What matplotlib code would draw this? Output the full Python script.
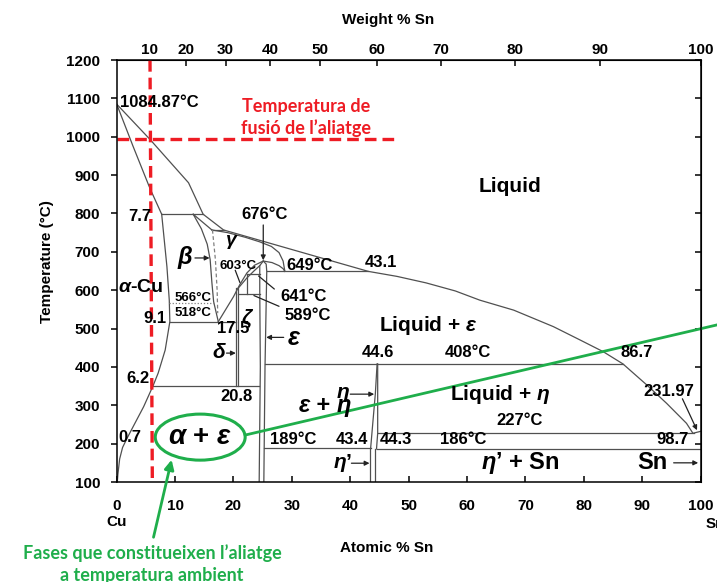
import numpy as np
import matplotlib.pyplot as plt
from matplotlib.patches import Ellipse

plt.rcParams['font.family'] = ['Liberation Sans', 'DejaVu Sans']
plt.rcParams['font.weight'] = 'bold'
plt.rcParams['mathtext.fontset'] = 'custom'
plt.rcParams['mathtext.rm'] = 'Liberation Sans:bold'
plt.rcParams['mathtext.it'] = 'Liberation Sans:italic:bold'
plt.rcParams['mathtext.bf'] = 'Liberation Sans:bold'

# ---- phase boundaries: atomic % Sn, temperature in °C ----
liquidus_at = [0, 5.7, 12.3, 14.8, 18.3, 30, 43.1, 48, 53, 58, 62.2, 68, 74.8,
               79.4, 83.3, 86.7, 90.8, 94.2, 97.6, 98.7, 100]
liquidus_T = [1084.87, 993, 880, 798, 757, 706, 649, 636, 619, 598, 574, 548, 505,
              470, 440, 408, 353, 305, 253, 227, 231.97]

solidus_at = [0, 2.8, 5.7, 7.7]
solidus_T = [1084.87, 975, 865, 798]

alpha_solvus_at = [7.7, 8.6, 9.0, 9.1, 8.3, 7.1, 6.2, 4.6, 2.8, 1.8, 1.0, 0.5, 0.2, 0.1]
alpha_solvus_T = [798, 661, 574, 518, 444, 384, 350, 296, 244, 215, 190, 160, 120, 100]

beta_left_at = [13.1, 14.5, 15.5, 16.0, 16.3, 16.6, 17.4]
beta_left_T = [798, 760, 720, 680, 620, 570, 518]

beta_liq_at = [13.1, 16.3]
beta_liq_T = [798, 757]

beta_gamma_at = [16.4, 16.9, 17.2, 17.3]
beta_gamma_T = [757, 680, 600, 540]

gamma_sol_at = [16.3, 19, 22, 24.5, 26.5, 27.8, 28.5, 28.8]
gamma_sol_T = [757, 750, 738, 726, 714, 698, 676, 649]

dome_at = [17.4, 18.6, 20.0, 21.1, 22.3, 23.6, 25.1, 26.6, 27.8, 28.5, 28.8]
dome_T = [518, 548, 583, 615, 645, 665, 676, 672, 664, 656, 649]

inner_at = [20.8, 22.3, 23.5, 24.5, 25.1]
inner_T = [605, 632, 650, 664, 676]

eps_left_at = [24.4, 24.6, 24.5, 24.5]
eps_left_T = [100, 400, 600, 664]
eps_right_at = [25.2, 25.4, 25.7, 25.6, 25.1]
eps_right_T = [100, 400, 649, 668, 676]

delta_at = [20.5, 20.8]
delta_T = [350, 605]

eta_left_at = [44.6, 44.3, 43.9, 43.5]
eta_left_T = [408, 330, 260, 189]
eta_right_at = [44.7, 44.7, 44.5]
eta_right_T = [408, 227, 186]
eta_p_at = [43.4, 44.3]
eta_p_T = [189, 186]

# invariant lines: (temperature, start, end)
isotherms = [(798, 7.7, 14.8), (757, 16.3, 18.3), (518, 9.1, 20.5), (350, 6.2, 24.4),
             (649, 25.7, 43.1), (408, 25.4, 86.7), (227, 44.7, 98.9),
             (189, 25.2, 43.5), (186, 44.5, 100), (641, 22.3, 24.5), (589, 20.8, 24.5)]
zeta_at = [22.3, 22.3]
zeta_T = [589, 641]

weight_ticks = [10, 20, 30, 40, 50, 60, 70, 80, 90, 100]
alloy_at = [5.7, 6.1]          # 10 wt% Sn alloy
alloy_liquidus = 993

M_CU, M_SN = 63.546, 118.71


def at_to_wt(a):
    a = np.asarray(a, dtype=float)
    return 100 * a * M_SN / (a * M_SN + (100 - a) * M_CU)


def wt_to_at(w):
    w = np.asarray(w, dtype=float)
    return 100 * (w / M_SN) / (w / M_SN + (100 - w) / M_CU)


fig = plt.figure(figsize=(7.17, 5.82), dpi=100)
ax = fig.add_axes([0.1628, 0.1718, 0.8142, 0.7251])
ax.set_xlim(0, 100)
ax.set_ylim(100, 1200)

ln = dict(color='#505050', lw=0.9)
for xs, ys in [(liquidus_at, liquidus_T), (solidus_at, solidus_T),
               (alpha_solvus_at, alpha_solvus_T), (beta_left_at, beta_left_T),
               (beta_liq_at, beta_liq_T), (gamma_sol_at, gamma_sol_T),
               (dome_at, dome_T), (inner_at, inner_T), (eps_left_at, eps_left_T),
               (eps_right_at, eps_right_T), (eta_left_at, eta_left_T),
               (eta_right_at, eta_right_T), (zeta_at, zeta_T)]:
    ax.plot(xs, ys, **ln)
for x in delta_at:
    ax.plot([x, x], delta_T, **ln)
for x, t in zip(eta_p_at, eta_p_T):
    ax.plot([x, x], [100, t], **ln)
for t, x0, x1 in isotherms:
    ax.plot([x0, x1], [t, t], **ln)
ax.plot(beta_gamma_at, beta_gamma_T, color='#808080', lw=0.9, ls=(0, (3, 2)))
ax.plot([9.0, 16.6], [566, 566], color='#808080', lw=0.9, ls=(0, (1, 1.5)))

# red guide lines
ax.plot(alloy_at, [1200, 100], color='#ee1c24', lw=2.4, ls=(0, (3.5, 1.8)), clip_on=False)
ax.plot([0, 48], [alloy_liquidus, alloy_liquidus], color='#ee1c24', lw=2.4,
        ls=(0, (3.5, 1.8)))

# axes styling
for s in ax.spines.values():
    s.set_linewidth(1.1)
ax.set_xticks(range(0, 101, 10))
ax.set_yticks(range(100, 1201, 100))
ax.tick_params(axis='x', direction='in', length=4, width=1.1, labelsize=11, pad=12)
ax.tick_params(axis='y', direction='out', length=4, width=1.1, labelsize=11, pad=8)
sec = ax.secondary_xaxis('top', functions=(at_to_wt, wt_to_at))
sec.set_xticks(weight_ticks)
sec.tick_params(direction='in', length=4, width=1.1, labelsize=11, pad=2)
right = ax.secondary_yaxis('right')
right.set_yticks(range(100, 1201, 100))
right.tick_params(direction='in', length=4, width=1.1, labelright=False)

fig.text(388 / 717, 1 - 20 / 582, 'Weight % Sn', ha='center', va='center', fontsize=11)
fig.text(387 / 717, 1 - 548 / 582, 'Atomic % Sn', ha='center', va='center', fontsize=11)
fig.text(47 / 717, 1 - 262 / 582, 'Temperature (°C)', rotation=90, ha='center',
         va='center', fontsize=11)
ax.text(0, -0.095, 'Cu', transform=ax.get_xaxis_transform(), ha='center', va='center',
        fontsize=11)
ax.text(100.8, -0.1, 'Sn', transform=ax.get_xaxis_transform(), ha='left', va='center',
        fontsize=11, clip_on=False)


def lab(x, y, s, size=12, **kw):
    kw.setdefault('ha', 'center')
    kw.setdefault('va', 'center')
    ax.text(x, y, s, fontsize=size, **kw)


def arrow(x0, y0, x1, y1, head=True):
    ax.annotate('', xy=(x1, y1), xytext=(x0, y0),
                arrowprops=dict(arrowstyle='-|>' if head else '-', color='#222222',
                                lw=0.9, mutation_scale=7, shrinkA=0, shrinkB=0))


lab(0.5, 1088, '1084.87°C', ha='left')
lab(67.4, 869, 'Liquid', 15)
lab(53.4, 509, 'Liquid + $\\varepsilon$', 15)
lab(65.6, 327, 'Liquid + $\\eta$', 15)
lab(35.7, 293, '$\\varepsilon$ + $\\eta$', 17, fontstyle='italic')
lab(69.1, 150, '$\\eta$’ + Sn', 17)
lab(91.8, 150, 'Sn', 17)
arrow(95.4, 150, 99.6, 150)
lab(0.2, 606, '$\\alpha$-Cu', 14, ha='left')
lab(11.8, 684, '$\\beta$', 17)
arrow(13.4, 684, 15.9, 684)
lab(19.8, 725, '$\\gamma$', 14)
lab(20.8, 664, '603°C', 9.5)
lab(13.0, 580, '566°C', 9.5)
lab(13.0, 541, '518°C', 9.5)
lab(6.6, 527, '9.1')
lab(4.0, 791, '7.7')
lab(3.7, 371, '6.2')
lab(2.3, 217, '0.7')
lab(20.0, 499, '17.5')
lab(17.6, 438, '$\\delta$', 15)
arrow(18.8, 436, 20.4, 436)
lab(22.4, 527, '$\\zeta$', 15)
lab(30.3, 475, '$\\varepsilon$', 18)
arrow(28.6, 477, 25.6, 477)
lab(25.4, 796, '676°C')
arrow(25.1, 770, 25.1, 678)
lab(33.1, 665, '649°C')
lab(45.2, 673, '43.1')
lab(32.0, 583, '641°C')
arrow(27.0, 603, 24.3, 637, head=False)
lab(32.8, 535, '589°C')
arrow(27.8, 558, 23.5, 586, head=False)
arrow(20.3, 652, 21.1, 620, head=False)
lab(20.6, 324, '20.8')
lab(44.8, 438, '44.6')
lab(60.2, 438, '408°C')
lab(89.0, 438, '86.7')
lab(38.8, 329, '$\\eta$', 15)
arrow(40.0, 329, 44.1, 329)
lab(94.6, 337, '231.97')
arrow(96.9, 317, 99.4, 235)
lab(69.0, 261, '227°C')
lab(30.3, 210, '189°C')
lab(40.3, 210, '43.4')
lab(47.9, 210, '44.3')
lab(59.3, 210, '186°C')
lab(95.2, 210, '98.7')
lab(38.7, 149, '$\\eta$’', 15)
arrow(40.2, 149, 43.3, 149)

# red annotation
lab(32.5, 1050, 'Temperatura de\nfusió de l\u2019aliatge', 13, color='#ee1c24',
    linespacing=1.3, family=['Lato', 'DejaVu Sans'])

# green annotation
green = '#1fae4b'
lab(14.3, 217, '$\\alpha$ + $\\varepsilon$', 20)
ax.add_patch(Ellipse((14.3, 217), 15.4, 120, fill=False, ec=green, lw=2.2, clip_on=False))
ax.plot([22.0, 110], [222.4, 535], color=green, lw=2.0, clip_on=False)
ax.annotate('', xy=(9.4, 158), xytext=(6.3, -44), annotation_clip=False,
            arrowprops=dict(arrowstyle='-|>', color=green, lw=2.0, mutation_scale=14,
                            shrinkA=0, shrinkB=0))
fig.text(152 / 717, 1 - 564 / 582, 'Fases que constitueixen l\u2019aliatge\na temperatura ambient',
         ha='center', va='center', color=green, fontsize=13, linespacing=1.3,
         family=['Lato', 'DejaVu Sans'], fontweight='bold')

fig.savefig('out.png', dpi=100)
